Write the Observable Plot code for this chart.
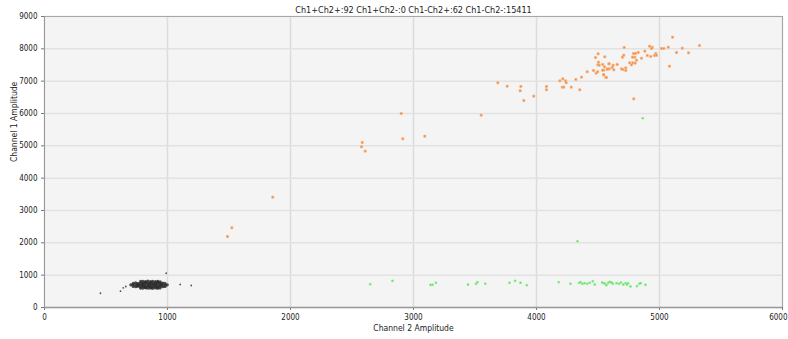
<!DOCTYPE html>
<html>
<head>
<meta charset="utf-8">
<script src="https://cdn.jsdelivr.net/npm/d3@7"></script>
<script src="https://cdn.jsdelivr.net/npm/@observablehq/plot@0.6"></script>
<style>
  html, body { margin: 0; padding: 0; background: #ffffff; }
  #chart svg { display: block; }
</style>
</head>
<body>
<div id="chart"></div>
<script>
const titleText = "Ch1+Ch2+:92 Ch1+Ch2-:0 Ch1-Ch2+:62 Ch1-Ch2-:15411";
const xLabel = "Channel 2 Amplitude";
const yLabel = "Channel 1 Amplitude";
const xTicks = [0, 1000, 2000, 3000, 4000, 5000, 6000];
const xTickLabelsInner = [0, 1000, 2000, 3000, 4000, 5000];
const xTickLabelLast = [6000];
const yTicks = [0, 1000, 2000, 3000, 4000, 5000, 6000, 7000, 8000, 9000];

// Ch1+Ch2+ (orange) [ch2, ch1]
const orangePts = [
  [1488,2196],[1523,2465],[1856,3413],[2583,5104],[2577,4970],[2607,4836],[2900,6000],[2913,5217],
  [3092,5300],[3550,5950],[3897,6400],[3686,6950],[3761,6846],[3873,6836],[3867,6702],[3978,6536],
  [4081,6836],[4081,6733],[4190,7010],[4214,7072],[4236,7010],[4241,6950],[4209,6815],[4222,6815],
  [4282,6815],[4320,7052],[4352,6733],[4366,7124],[4412,7289],[4463,7330],[4485,7248],[4497,7289],
  [4545,7196],[4563,7114],[4547,7340],[4575,7361],[4588,7536],[4553,7443],[4539,7516],[4499,7505],
  [4510,7495],[4504,7588],[4480,7732],[4501,7845],[4555,7752],[4591,7536],[4623,7494],[4615,7423],
  [4656,7516],[4575,7381],[4591,7381],[4629,7350],[4537,7340],[4547,7196],[4569,7114],[4691,7381],
  [4702,7361],[4726,7412],[4726,7330],[4713,8041],[4710,7804],[4699,7742],[4758,7567],[4772,7505],
  [4783,7567],[4802,7557],[4813,7649],[4780,7742],[4799,7742],[4789,7856],[4805,7860],[4827,7887],
  [4854,7711],[4881,7928],[4900,7794],[4929,7763],[4919,8082],[4941,8051],[4935,8010],[4959,7794],
  [4970,7856],[4975,7800],[5016,8010],[5035,8010],[5071,8051],[5106,8360],[5138,7887],[5185,8020],
  [5236,7877],[5325,8103],[5081,7464],[4791,6452]
];

// Ch1-Ch2+ (green)
const greenPts = [
  [2648,721],[2829,825],[3138,702],[3154,702],[3182,764],[3443,711],[3508,733],[3520,783],
  [3583,733],[3780,764],[3826,826],[3870,764],[3921,690],[4181,783],[4276,733],[4346,764],
  [4358,783],[4372,733],[4390,752],[4412,733],[4433,764],[4458,814],[4474,711],[4534,773],
  [4547,752],[4558,733],[4569,690],[4583,764],[4596,794],[4610,773],[4621,733],[4650,752],
  [4670,733],[4686,773],[4705,711],[4724,752],[4735,711],[4745,752],[4764,650],[4816,660],
  [4835,733],[4848,752],[4886,702],[4333,2051],[4864,5855]
];

// Ch1-Ch2- (black) outliers
const blackOutliers = [
  [455,440],[618,505],[640,610],[661,650],[989,1060],[1103,711],[1193,680]
];

// Ch1-Ch2- (black) dense cluster, read as a blob
const blackCluster = [
  [782,805],[801,812],[822,798],[840,815],[861,802],[880,810],[902,798],[921,806],[940,795],
  [722,748],[741,760],[760,742],[781,755],[800,748],[821,762],[840,745],[862,757],[880,741],[901,752],[922,760],[941,744],[960,756],[979,748],
  [702,700],[720,706],[741,695],[760,703],[779,698],[801,707],[820,695],[842,702],[860,698],[879,708],[900,693],[921,702],[940,698],[959,706],[981,695],[998,702],
  [721,652],[742,644],[760,658],[781,648],[799,655],[820,645],[839,657],[861,650],[881,642],[899,656],[920,648],[941,655],[962,645],[980,652],
  [781,602],[799,595],[822,608],[841,598],[860,604],[878,594],[901,606],[920,598],[939,603],
  [760,725],[800,725],[850,725],[900,725],[950,725],[760,675],[800,675],[850,675],[900,675],[950,675],
  [820,780],[870,780],[920,780],[820,620],[870,620],[920,620]
];

const toObj = arr => arr.map(([x, y]) => ({x, y}));
const orange = toObj(orangePts);
const green = toObj(greenPts);
const blackO = toObj(blackOutliers);
const blackC = toObj(blackCluster);

const font = "'Liberation Sans Narrow', 'DejaVu Sans Condensed', 'Liberation Sans', sans-serif";

const chart = Plot.plot({
  width: 788,
  height: 339,
  marginLeft: 44,
  marginRight: 6,
  marginTop: 16,
  marginBottom: 32,
  style: {fontFamily: font, fontSize: "8px", color: "#222", background: "#ffffff"},
  x: {domain: [0, 6000], ticks: xTicks, tickFormat: d => String(d)},
  y: {domain: [0, 9000], ticks: yTicks, tickFormat: d => String(d)},
  marks: [
    Plot.frame({fill: "#f4f4f4", stroke: "none"}),
    Plot.gridX(xTicks, {stroke: "#dcdcdc", strokeOpacity: 1, strokeWidth: 1.5}),
    Plot.gridY(yTicks, {stroke: "#e2e2e2", strokeOpacity: 1, strokeWidth: 1.5}),
    Plot.frame({stroke: "#a8a8a8", strokeWidth: 1}),
    Plot.axisX({ticks: xTicks, tickSize: 3, tickPadding: 5, label: null, text: null, stroke: "#777"}),
    Plot.text(xTickLabelsInner, {x: d => d, text: d => String(d), frameAnchor: "bottom", dy: 12, fill: "#222"}),
    Plot.text(xTickLabelLast, {x: d => d, text: d => String(d), frameAnchor: "bottom", dy: 12, textAnchor: "end", dx: 5, fill: "#222"}),
    Plot.axisY({ticks: yTicks, tickSize: 3, tickPadding: 4, label: null, tickFormat: d => String(d), stroke: "#777"}),
    Plot.ruleY([0], {stroke: "#999", strokeWidth: 1.5}),
    Plot.ruleX([0], {stroke: "#999", strokeWidth: 1}),
    Plot.dot(blackC, {x: "x", y: "y", r: 1.6, fill: "#2e2e2e", fillOpacity: 0.85, stroke: "none"}),
    Plot.dot(blackO, {x: "x", y: "y", r: 0.9, fill: "#555", stroke: "none"}),
    Plot.dot(orange, {x: "x", y: "y", symbol: "square", r: 1.2, fill: "#f08030", stroke: "#f8b888", strokeWidth: 0.7}),
    Plot.dot(green, {x: "x", y: "y", symbol: "square", r: 1.0, fill: "#30d830", stroke: "#9ef09e", strokeWidth: 0.7}),
    Plot.text([titleText], {frameAnchor: "top", dy: -10, fontSize: 9, fill: "#222"}),
    Plot.text([xLabel], {frameAnchor: "bottom", dy: 23, fontSize: 8.5, fill: "#222"}),
    Plot.text([yLabel], {frameAnchor: "left", dx: -30, rotate: -90, fontSize: 8.5, fill: "#222"})
  ]
});

document.getElementById("chart").appendChild(chart);
</script>
</body>
</html>
